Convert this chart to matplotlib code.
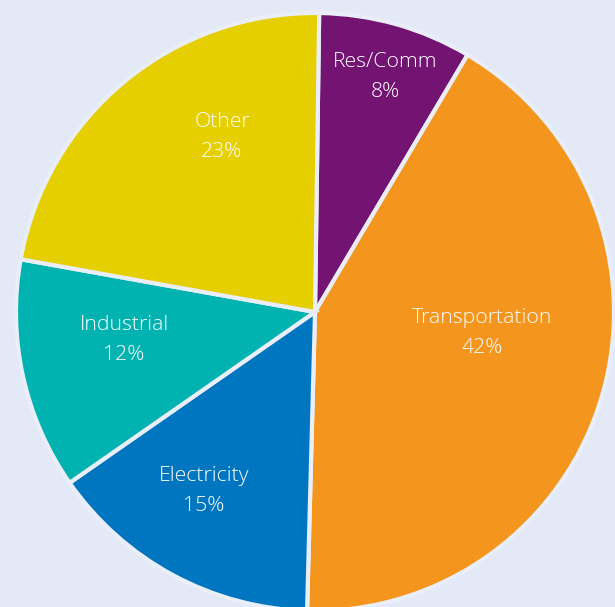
import matplotlib
matplotlib.use('Agg')

import matplotlib.pyplot as plt

sectors = ["Res/Comm", "Transportation", "Electricity", "Industrial", "Other"]
shares = [8.3, 41.9, 14.9, 12.5, 22.4]       # slice sizes
shown_pct = [8, 42, 15, 12, 23]              # percentages printed on the chart
colors = ["#741472", "#f4961e", "#0076c0", "#00b2b0", "#e5cf00"]

# label centres relative to pie centre, in pixels (x right, y up)
label_xy = [(70, 235), (167, -21), (-111, -179), (-191, -28), (-93, 175)]

bg = "#e3e9f6"
R = 299.0
cx, cy = 315.0, 312.0
W, H = 615, 607

fig = plt.figure(figsize=(W / 100, H / 100), dpi=100)
fig.patch.set_facecolor(bg)
ax = fig.add_axes([0, 0, 1, 1])
ax.set_facecolor(bg)

wedges, _ = ax.pie(shares, colors=colors, startangle=89.2, counterclock=False,
                   radius=1.0, wedgeprops=dict(edgecolor="#e9eef9", linewidth=3))

for name, pct, (lx, ly) in zip(sectors, shown_pct, label_xy):
    ax.text(lx / R, ly / R, f"{name}\n{pct}%", ha="center", va="center",
            color="white", fontsize=15.3, family="Open Sans",
            fontweight="light", linespacing=1.65)

ax.set_xlim(-cx / R, (W - cx) / R)
ax.set_ylim(-(H - cy) / R, cy / R)
ax.axis("off")

fig.savefig("out.png", dpi=100, facecolor=bg)
